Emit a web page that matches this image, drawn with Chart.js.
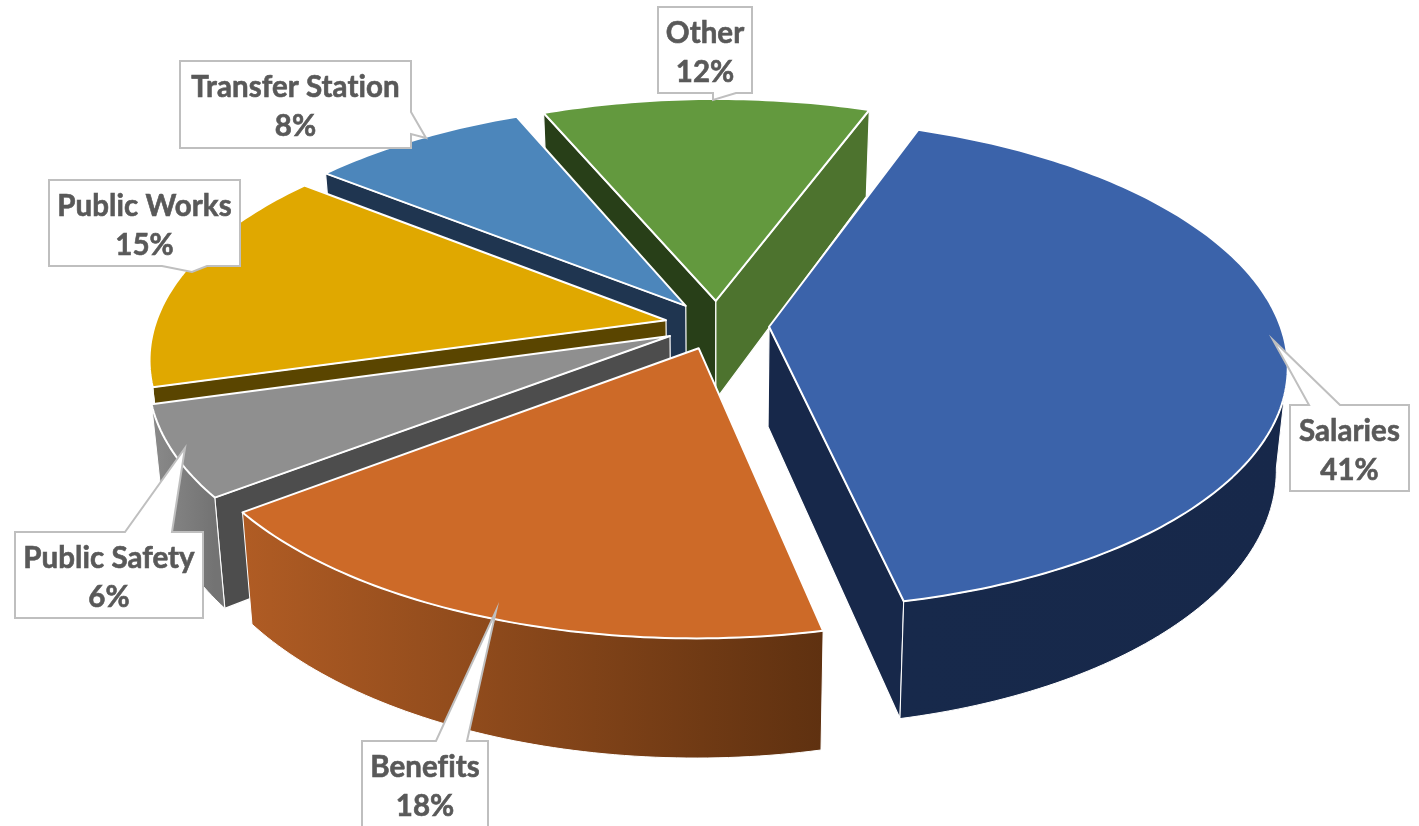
<!DOCTYPE html>
<html>
<head>
<meta charset="utf-8">
<title>Budget pie</title>
<script src="https://cdn.jsdelivr.net/npm/chart.js@4/dist/chart.umd.min.js"></script>
<style>
    html, body { margin: 0; padding: 0; background: #fff; }
    canvas { display: block; }
</style>
</head>
<body>
<canvas id="budgetChart" width="1419" height="826"></canvas>
<script>
// 数据
const categories = ["Salaries", "Benefits", "Public Safety", "Public Works", "Transfer Station", "Other"];
const percents = [41, 18, 6, 15, 8, 12];

// 颜色
const topColors = ["#3b63aa", "#cd6a28", "#8f8f8f", "#e0a800", "#4c86bb", "#63993e"];
const startWallColors = ["#17284a", "#6b3813", "#4d4d4d", "#5a4500", "#1f3550", "#283f18"];
const endWallColors = ["#17284a", "#6b3813", "#7a7a7a", "#5a4500", "#1f3550", "#4d732e"];
const outerLeftColors = ["#17294b", "#b05c24", "#8a8a8a", "#5a4500", "#1f3550", "#4d732e"];
const outerRightColors = ["#17284a", "#5f3110", "#737373", "#5a4500", "#1f3550", "#4d732e"];

// 标签框：矩形 + 指针
const labelBoxes = [
    { x: 1290, y: 405, w: 119, h: 86, pointer: [[1340, 405], [1273, 340], [1309, 405]] },
    { x: 362, y: 741, w: 126, h: 95, pointer: [[467, 741], [496, 611], [436, 741]] },
    { x: 15, y: 532, w: 188, h: 86, pointer: [[172, 532], [185, 448], [125, 532]] },
    { x: 49, y: 180, w: 191, h: 86, pointer: [[207, 266], [192, 272], [162, 266]] },
    { x: 180, y: 61, w: 231, h: 87, pointer: [[411, 112], [426, 138], [411, 134]] },
    { x: 658, y: 7, w: 94, h: 86, pointer: [[736, 93], [713, 100], [713, 93]] }
];

// 透视参数
const VIEW = { cx: 717, cy: 325, rx: 511, ry: 239, k: 0.15, depth: 100, shrink: 0.02 };
const ARC_STEP = Math.PI / 180;

function project(u, v, z) {
    const w = 1 + VIEW.k * v;
    return {
        x: VIEW.cx + (VIEW.rx * u / w) * (1 - VIEW.shrink * z),
        y: VIEW.cy - VIEW.ry * v / w + VIEW.depth * z / w
    };
}

function tracePath(ctx, points) {
    ctx.beginPath();
    points.forEach((p, i) => (i === 0 ? ctx.moveTo(p.x, p.y) : ctx.lineTo(p.x, p.y)));
    ctx.closePath();
}

function fillFace(ctx, points, fill, lineWidth) {
    tracePath(ctx, points);
    ctx.fillStyle = fill;
    ctx.fill();
    ctx.strokeStyle = "#ffffff";
    ctx.lineWidth = lineWidth;
    ctx.lineJoin = "round";
    ctx.stroke();
}

function cross(o, a, b) {
    return (a.x - o.x) * (b.y - o.y) - (a.y - o.y) * (b.x - o.x);
}

// 用 Chart.js 算好的弧角度画一块立体扇形
function drawSlice(ctx, arc, i) {
    const mid = (arc.startAngle + arc.endAngle) / 2;
    const off = arc.options.offset / arc.outerRadius;
    const u0 = Math.cos(mid) * off;
    const v0 = -Math.sin(mid) * off;

    const rim = z => {
        const pts = [];
        const steps = Math.ceil((arc.endAngle - arc.startAngle) / ARC_STEP);
        for (let s = 0; s <= steps; s++) {
            const a = arc.startAngle + (arc.endAngle - arc.startAngle) * s / steps;
            pts.push(project(u0 + Math.cos(a), v0 - Math.sin(a), z));
        }
        return pts;
    };

    const topRim = rim(0);
    const lowRim = rim(1);
    const last = topRim.length - 1;
    const tipTop = project(u0, v0, 0);
    const tipLow = project(u0, v0, 1);
    const rimMid = topRim[Math.floor(last / 2)];

    // 径向侧面：只画朝向镜头的
    const facing = edge => cross(tipTop, edge, rimMid) * cross(tipTop, edge, tipLow) < 0;
    if (facing(topRim[0])) {
        fillFace(ctx, [tipTop, topRim[0], lowRim[0], tipLow], startWallColors[i], 1.2);
    }
    if (facing(topRim[last])) {
        fillFace(ctx, [tipTop, topRim[last], lowRim[last], tipLow], endWallColors[i], 1.2);
    }

    // 外侧面：顺时针时 x 变小的那段才在前面
    const frontTop = [];
    const frontLow = [];
    for (let s = 0; s < last; s++) {
        if (topRim[s + 1].x < topRim[s].x) {
            if (frontTop.length === 0) {
                frontTop.push(topRim[s]);
                frontLow.push(lowRim[s]);
            }
            frontTop.push(topRim[s + 1]);
            frontLow.push(lowRim[s + 1]);
        }
    }
    if (frontTop.length > 1) {
        const xs = topRim.map(p => p.x);
        const grad = ctx.createLinearGradient(Math.min(...xs), 0, Math.max(...xs), 0);
        grad.addColorStop(0, outerLeftColors[i]);
        grad.addColorStop(1, outerRightColors[i]);
        fillFace(ctx, frontTop.concat(frontLow.reverse()), grad, 1);
    }

    // 顶面
    fillFace(ctx, [tipTop].concat(topRim), arc.options.backgroundColor, 2);
}

const pie3dPlugin = {
    id: "pie3d",
    beforeDatasetDraw(chart, args) {
        const arcs = chart.getDatasetMeta(args.index).data;
        const order = arcs.map((arc, i) => i).sort((a, b) => {
            const midA = (arcs[a].startAngle + arcs[a].endAngle) / 2;
            const midB = (arcs[b].startAngle + arcs[b].endAngle) / 2;
            return Math.sin(midA) - Math.sin(midB);
        });
        order.forEach(i => drawSlice(chart.ctx, arcs[i], i));
        return false;
    },
    afterDraw(chart) {
        const ctx = chart.ctx;
        labelBoxes.forEach((box, i) => {
            const points = [
                { x: box.x, y: box.y },
                { x: box.x + box.w, y: box.y },
                { x: box.x + box.w, y: box.y + box.h },
                { x: box.x, y: box.y + box.h }
            ];
            // 把指针插到它所在的那条边上
            const [p0] = box.pointer;
            let edge = 0;
            if (p0[0] === box.x + box.w) edge = 1;
            else if (p0[1] === box.y + box.h) edge = 2;
            const tail = box.pointer.map(p => ({ x: p[0], y: p[1] }));
            const outline = [];
            points.forEach((p, n) => {
                outline.push(p);
                if (n === edge) outline.push(...(edge === 0 ? tail.slice().reverse() : tail));
            });
            tracePath(ctx, outline);
            ctx.fillStyle = "#ffffff";
            ctx.fill();
            ctx.strokeStyle = "#bfbfbf";
            ctx.lineWidth = 2;
            ctx.lineJoin = "miter";
            ctx.stroke();

            ctx.fillStyle = "#595959";
            ctx.strokeStyle = "#595959";
            ctx.lineWidth = 0.6;
            ctx.font = "bold 29.5px Lato";
            ctx.letterSpacing = "0.05px"; // 关掉 ti/fi 连字
            ctx.textAlign = "center";
            ctx.textBaseline = "middle";
            const mx = box.x + box.w / 2;
            [categories[i], percents[i] + "%"].forEach((text, line) => {
                ctx.fillText(text, mx, box.y + 26 + line * 39);
                ctx.strokeText(text, mx, box.y + 26 + line * 39);
            });
        });
    }
};

new Chart(document.getElementById("budgetChart").getContext("2d"), {
    type: "pie",
    data: {
        labels: categories,
        datasets: [{
            data: percents,
            backgroundColor: topColors,
            offset: 40
        }]
    },
    options: {
        responsive: false,
        animation: false,
        rotation: 20.3,
        layout: { padding: 0 },
        plugins: {
            legend: { display: false },
            tooltip: { enabled: false }
        }
    },
    plugins: [pie3dPlugin]
});
</script>
</body>
</html>
